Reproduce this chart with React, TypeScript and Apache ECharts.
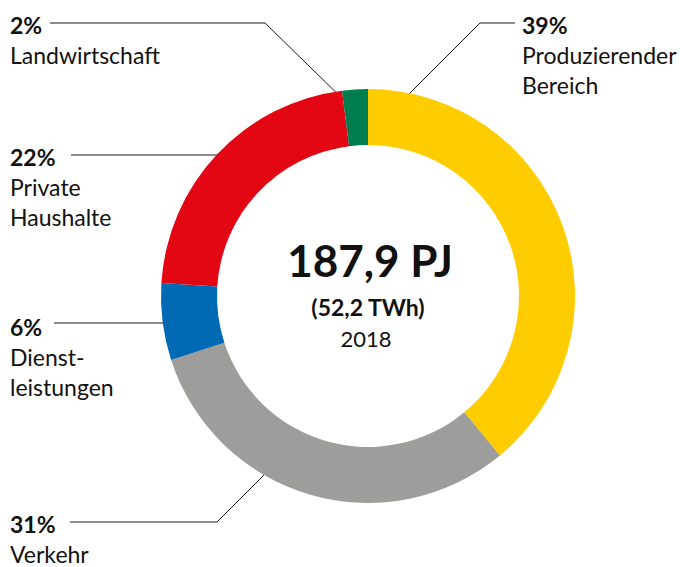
import React, { useEffect, useRef } from "react";
import * as echarts from "echarts";

const categories = ["Produzierender Bereich", "Verkehr", "Dienstleistungen", "Private Haushalte", "Landwirtschaft"];
const shares = [39, 31, 6, 22, 2];
const colors = ["#FFCC00", "#9D9D9C", "#0069B4", "#E30613", "#007D4F"];
const labelNames = ["Produzierender\nBereich", "Verkehr", "Dienst-\nleistungen", "Private\nHaushalte", "Landwirtschaft"];
const centerTitle = "187,9 PJ";
const centerSub = "(52,2 TWh)";
const centerYear = "2018";

// label layout (positions of annotation blocks and leader lines)
const labelLayout = [
  { x: 522, y: 9, line: [[515, 23], [480, 23], [395, 108]] },
  { x: 10, y: 508, line: [[70, 522], [217, 522], [273, 466]] },
  { x: 10, y: 311, line: [[54, 323], [191, 323]] },
  { x: 10, y: 141, line: [[71, 155], [242, 155]] },
  { x: 10, y: 9, line: [[50, 23], [265, 23], [352, 108]] },
];

const FONT = "Lato, 'Noto Sans', sans-serif";

export default function App() {
  const ref = useRef<HTMLDivElement>(null);
  useEffect(() => {
    const chart = echarts.init(ref.current!, null, { renderer: "svg" });
    const graphics: any[] = [];
    shares.forEach((v, i) => {
      const L = labelLayout[i];
      graphics.push({
        type: "polyline",
        shape: { points: L.line },
        style: { stroke: "#1a1a1a", lineWidth: 1, fill: null },
        silent: true,
      });
      graphics.push({
        type: "text",
        x: L.x,
        y: L.y,
        style: {
          text: `{p|${v}%}\n{n|${labelNames[i].split("\n").join("}\n{n|")}}`,
          rich: {
            p: { fontFamily: FONT, fontSize: 23, fontWeight: "bold", lineHeight: 31, fill: "#111" },
            n: { fontFamily: FONT, fontSize: 23, fontWeight: "normal", lineHeight: 30, fill: "#111" },
          },
        },
      });
    });
    graphics.push({
      type: "text",
      x: 370,
      y: 260,
      style: { text: centerTitle, fontFamily: FONT, fontSize: 44, fontWeight: "bold", fill: "#111", align: "center", verticalAlign: "middle" },
    });
    graphics.push({
      type: "text",
      x: 368,
      y: 307,
      style: { text: centerSub, fontFamily: FONT, fontSize: 23, fontWeight: "bold", fill: "#111", align: "center", verticalAlign: "middle" },
    });
    graphics.push({
      type: "text",
      x: 366,
      y: 338,
      style: { text: centerYear, fontFamily: FONT, fontSize: 22, fontWeight: "normal", fill: "#111", align: "center", verticalAlign: "middle" },
    });

    chart.setOption({
      animation: false,
      backgroundColor: "#ffffff",
      series: [
        {
          type: "pie",
          center: [368, 296],
          radius: [151, 207],
          startAngle: 90,
          clockwise: true,
          label: { show: false },
          labelLine: { show: false },
          silent: true,
          itemStyle: { borderWidth: 0 },
          data: categories.map((c, i) => ({ name: c, value: shares[i], itemStyle: { color: colors[i] } })),
        },
      ],
      graphic: graphics,
    });
    return () => chart.dispose();
  }, []);
  return <div ref={ref} style={{ position: "fixed", left: 0, top: 0, width: 680, height: 567 }} />;
}
